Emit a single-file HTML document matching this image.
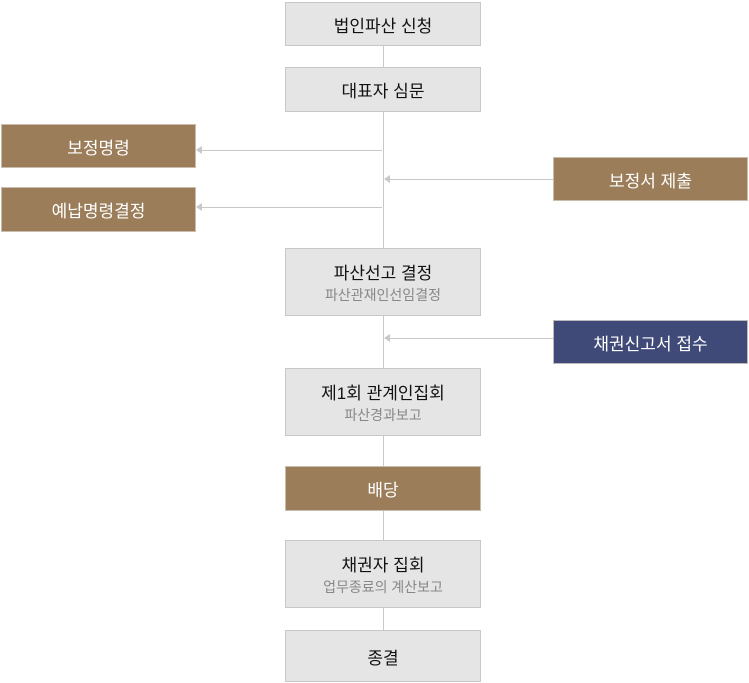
<!DOCTYPE html>
<html><head><meta charset="utf-8"><style>
body{margin:0;width:749px;height:683px;background:#fff;position:relative;overflow:hidden;font-family:"Liberation Sans","Noto Sans CJK KR",sans-serif}
.b{position:absolute;box-sizing:border-box;border:1px solid #c8c8c8;display:flex;flex-direction:column;align-items:center;justify-content:center;text-align:center}
.g{background:#e5e5e5;color:#111;font-size:17px;left:285px;width:196px}
.br{background:#9b7d5a;color:#fff;font-size:17px;border-color:#c8bcae}
.nv{background:#3f4a78;color:#fff;font-size:17px;border-color:#bbb}
.s{font-size:14px;color:#888;margin-top:1px}
.l{position:absolute;background:#c8c8c8}
.a{position:absolute;width:0;height:0;border-top:4px solid transparent;border-bottom:4px solid transparent;border-right:6px solid #c8c8c8}
</style></head><body>
<div class="l" style="left:383px;top:44px;width:1px;height:588px"></div>
<div class="l" style="left:200px;top:150px;width:182px;height:1px"></div>
<div class="a" style="left:196px;top:146px"></div>
<div class="l" style="left:200px;top:207px;width:182px;height:1px"></div>
<div class="a" style="left:196px;top:203px"></div>
<div class="l" style="left:388px;top:179px;width:165px;height:1px"></div>
<div class="a" style="left:384px;top:175px"></div>
<div class="l" style="left:388px;top:338px;width:165px;height:1px"></div>
<div class="a" style="left:384px;top:334px"></div>

<div class="b g" style="top:2px;height:44px">법인파산 신청</div>
<div class="b g" style="top:67px;height:45px">대표자 심문</div>
<div class="b br" style="left:1px;top:124px;width:195px;height:44px">보정명령</div>
<div class="b br" style="left:1px;top:187px;width:195px;height:45px">예납명령결정</div>
<div class="b br" style="left:553px;top:157px;width:195px;height:44px">보정서 제출</div>
<div class="b g" style="top:248px;height:68px">파산선고 결정<div class="s">파산관재인선임결정</div></div>
<div class="b nv" style="left:553px;top:320px;width:195px;height:44px">채권신고서 접수</div>
<div class="b g" style="top:368px;height:68px">제1회 관계인집회<div class="s">파산경과보고</div></div>
<div class="b br" style="left:285px;top:466px;width:196px;height:45px">배당</div>
<div class="b g" style="top:540px;height:68px">채권자 집회<div class="s">업무종료의 계산보고</div></div>
<div class="b g" style="top:630px;height:52px">종결</div>
</body></html>
